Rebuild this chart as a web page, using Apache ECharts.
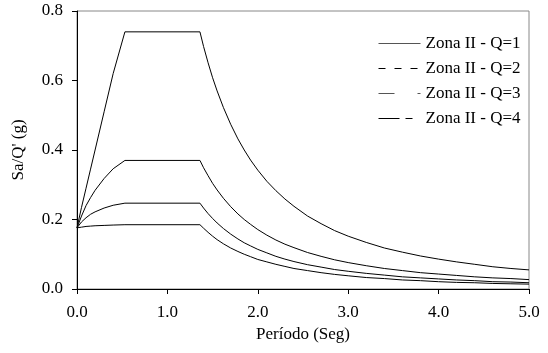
<!DOCTYPE html>
<html>
<head>
<meta charset="utf-8">
<script src="https://cdn.jsdelivr.net/npm/echarts@6/dist/echarts.min.js"></script>
<style>
  html, body { margin: 0; padding: 0; background: #fff; }
  #chart { width: 548px; height: 353px; }
</style>
</head>
<body>
<div id="chart"></div>
<script>
// Período (s) sample points
const periods = [0, 0.05, 0.1, 0.15, 0.2, 0.3, 0.4, 0.53, 1.36,
  1.4, 1.45, 1.5, 1.55, 1.62, 1.7, 1.78, 1.85, 1.92, 2.0, 2.1, 2.2, 2.3, 2.4, 2.55, 2.7, 2.85,
  3.0, 3.2, 3.4, 3.6, 3.8, 4.0, 4.2, 4.4, 4.6, 4.8, 5.0];

// Sa/Q' (g) for each ductility factor Q
const saQ1 = [0.176, 0.235, 0.29, 0.345, 0.40, 0.51, 0.62, 0.74, 0.74,
  0.698, 0.651, 0.608, 0.570, 0.522, 0.474, 0.432, 0.400, 0.371, 0.342, 0.310, 0.283, 0.259, 0.238, 0.210, 0.188, 0.168,
  0.152, 0.134, 0.118, 0.106, 0.095, 0.086, 0.078, 0.071, 0.064, 0.059, 0.055];
const saQ2 = [0.176, 0.21, 0.24, 0.263, 0.284, 0.318, 0.346, 0.37, 0.37,
  0.349, 0.326, 0.304, 0.285, 0.261, 0.237, 0.216, 0.200, 0.186, 0.171, 0.155, 0.141, 0.129, 0.119, 0.105, 0.094, 0.084,
  0.076, 0.067, 0.059, 0.053, 0.047, 0.043, 0.039, 0.035, 0.032, 0.030, 0.027];
const saQ3 = [0.176, 0.193, 0.205, 0.215, 0.222, 0.233, 0.241, 0.247, 0.247,
  0.233, 0.217, 0.203, 0.190, 0.174, 0.158, 0.144, 0.133, 0.124, 0.114, 0.104, 0.094, 0.086, 0.079, 0.070, 0.063, 0.056,
  0.051, 0.045, 0.040, 0.035, 0.032, 0.029, 0.026, 0.024, 0.021, 0.020, 0.018];
const saQ4 = [0.176, 0.178, 0.18, 0.181, 0.182, 0.183, 0.184, 0.185, 0.185,
  0.175, 0.163, 0.152, 0.142, 0.130, 0.118, 0.108, 0.100, 0.093, 0.085, 0.078, 0.071, 0.065, 0.059, 0.053, 0.047, 0.042,
  0.038, 0.033, 0.030, 0.026, 0.024, 0.021, 0.019, 0.018, 0.016, 0.015, 0.014];

const seriesNames = ['Zona II - Q=1', 'Zona II - Q=2', 'Zona II - Q=3', 'Zona II - Q=4'];
const seriesValues = [saQ1, saQ2, saQ3, saQ4];

// Dash patterns shown in the legend keys
const legendDashes = ['solid', [7, 9], [16, 23, 3, 40], [21, 6, 7, 40]];
const legendColors = ['#555', '#000', '#555', '#000'];

const FONT = '"Liberation Serif", "Times New Roman", serif';

const chart = echarts.init(document.getElementById('chart'), null, { renderer: 'canvas' });

const pairs = v => periods.map((t, i) => [t, v[i]]);

chart.setOption({
  animation: false,
  backgroundColor: '#fff',
  textStyle: { fontFamily: FONT, color: '#000' },
  grid: {
    left: 77, right: 19, top: 11, bottom: 64,
    show: true, borderColor: '#888', borderWidth: 1, backgroundColor: 'transparent'
  },
  legend: {
    orient: 'vertical',
    left: 373, top: 30,
    itemWidth: 42, itemHeight: 14, itemGap: 8,
    textStyle: { fontFamily: FONT, fontSize: 17, color: '#000' },
    data: seriesNames.map((n, i) => ({
      name: n,
      itemStyle: { opacity: 0, borderWidth: 0 },
      lineStyle: { type: legendDashes[i], color: legendColors[i], width: 1 }
    }))
  },
  xAxis: {
    type: 'value', min: 0, max: 5, interval: 1,
    name: 'Período (Seg)', nameLocation: 'middle', nameGap: 36,
    nameTextStyle: { fontFamily: FONT, fontSize: 17, color: '#000' },
    axisLine: { onZero: false, lineStyle: { color: '#000', width: 1 } },
    axisTick: { show: true, inside: false, length: 5, lineStyle: { color: '#000' } },
    axisLabel: { fontFamily: FONT, fontSize: 17, color: '#000', margin: 15, formatter: v => v.toFixed(1) },
    splitLine: { show: false }
  },
  yAxis: {
    type: 'value', min: 0, max: 0.8, interval: 0.2,
    name: "Sa/Q' (g)", nameLocation: 'middle', nameGap: 50,
    nameTextStyle: { fontFamily: FONT, fontSize: 17, color: '#000' },
    axisLine: { show: true, lineStyle: { color: '#000', width: 1 } },
    axisTick: { show: true, inside: false, length: 5, lineStyle: { color: '#000' } },
    axisLabel: { fontFamily: FONT, fontSize: 17, color: '#000', margin: 14, formatter: v => v.toFixed(1) },
    splitLine: { show: false }
  },
  series: seriesValues.map((v, i) => ({
    name: seriesNames[i],
    type: 'line',
    data: pairs(v),
    symbol: 'none',
    lineStyle: { color: '#000', width: 1, type: 'solid' },
    itemStyle: { color: '#000' },
    z: 3
  }))
});
</script>
</body>
</html>
